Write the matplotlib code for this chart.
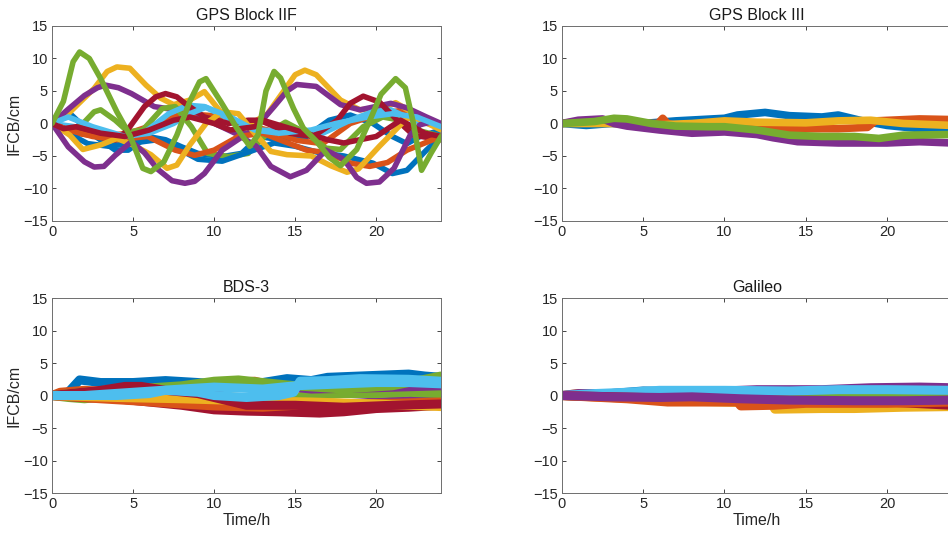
import numpy as np
import matplotlib.pyplot as plt
import matplotlib as mpl

mpl.rcParams['font.family'] = ['Liberation Sans', 'DejaVu Sans']

# MATLAB default line colours
BLUE, ORANGE, YELLOW = '#0072BD', '#D95319', '#EDB120'
PURPLE, GREEN, LBLUE, DRED = '#7E2F8E', '#77AC30', '#4DBEEE', '#A2142F'

# ---------------- GPS Block IIF (time in h, IFCB in cm) ----------------
iif_blue_a_t = [0, 0.6, 1.2, 2.4, 3.9, 4.7, 5.9, 7, 8, 9, 10.5, 11.7, 12.8, 14, 15.7, 17.1, 18.4, 19.8, 21, 21.9, 22.7, 24]
iif_blue_a = [0, 1, 1.3, -1.5, -4.1, -4.1, -2, -2.5, -3.6, -4.6, -5.1, -4.6, -2, -2.5, -2, 0.5, 1.3, 0, -2, -3.1, -2, -1]
iif_orange_a_t = [0, 1.4, 3, 4.7, 6.5, 8, 9.4, 10.9, 11.6, 13.3, 15.1, 16.7, 18.4, 20.2, 21.5, 22.7, 24]
iif_orange_a = [0, -1.5, -2, -1.5, 0, 1.5, 1.3, 1, 0, -1, -2.6, -3.1, 0, 1.5, 2, 0.5, -0.5]
iif_yellow_a_t = [0, 1, 2.6, 3.4, 4, 4.8, 5.8, 6.7, 7.5, 8.5, 9.4, 10.4, 11.5, 12.5, 13.3, 14.3, 15, 15.6, 16.3, 17.8, 19, 20.5, 21.2, 22.7, 24]
iif_yellow_a = [0, 1.5, 5.4, 8, 8.7, 8.5, 5.9, 3.9, 2.9, 3.6, 4.9, 1.8, 0, 0.3, 1.5, 5, 7.5, 8.2, 7.5, 3.6, 2.1, 2.5, 3.2, 1, -0.8]
iif_purple_a_t = [0, 1, 2, 2.8, 3.3, 4.1, 4.9, 6.3, 7.6, 8.4, 9.6, 11.3, 12.1, 12.9, 13.7, 14.5, 15.1, 16.3, 17.8, 19, 20.9, 21.9, 23.1, 24]
iif_purple_a = [0, 2.2, 4.3, 5.5, 5.9, 5.5, 4.6, 2.6, 2.1, 2.6, 0.5, -1.5, -1.5, 0.3, 2.6, 5, 6, 5.7, 2.9, 2.1, 3.1, 2.4, 1, 0]
iif_green_b_t = [0, 1, 1.8, 2.6, 3, 3.9, 4.7, 5.6, 6.8, 7.6, 8.6, 9.6, 10.9, 12.1, 13.3, 14.4, 15.7, 16.9, 17.8, 19.2, 20.4, 21.5, 22.5, 24]
iif_green_b = [0, -1, -0.3, 1.8, 2.1, 0.5, -1.3, -1, 2.3, 2.6, -0.5, -4.6, -5.1, -4.6, -1.5, 0.2, -1.5, -3.8, -4, -0.5, 1, 0.5, -1, -2]
iif_lblue_a_t = [0, 1.4, 2.6, 3.9, 4.7, 5.9, 7.2, 8.4, 9.4, 10.7, 12.1, 12.8, 14.7, 16.7, 18.4, 19.8, 20.9, 22.3, 24]
iif_lblue_a = [0, -0.5, -1.5, -2.6, -3.1, -1, 1.5, 2.8, 2.6, 1, -0.5, -1, -1.3, -1.5, 0.5, 1.8, 2.1, 0.5, -0.5]
iif_dred_a_t = [0, 1, 2.4, 3.9, 4.6, 5.7, 6.4, 7, 7.7, 8.2, 9.4, 10.9, 12.1, 12.8, 14.7, 16.1, 17.6, 18.4, 19.2, 20.2, 21.3, 22.3, 24]
iif_dred_a = [0, -1, -1.8, -2.6, -1.2, 2.6, 4.1, 4.6, 4.1, 3.1, 1, 0, 0.5, 0.5, -1.5, -2, 0.5, 3.1, 4.2, 3.3, 0.5, -1.8, -2.5]
iif_blue_b_t = [0, 1, 2.2, 3.5, 5, 6.5, 7.5, 9, 10.5, 12, 13.7, 15, 16.5, 18, 19.8, 21, 21.9, 23.1, 24]
iif_blue_b = [0, -1.5, -3.1, -3.5, -3, -2.5, -3.5, -5.5, -5.8, -4.5, -3, -3.5, -4.5, -5, -6.1, -7.7, -7.2, -4.1, -2]
iif_orange_b_t = [0, 1, 2.5, 4, 5.9, 7.6, 8.8, 10, 11.5, 13, 15.7, 17, 18.4, 19.6, 20.7, 21.9, 23, 24]
iif_orange_b = [0, -1, -2, -2.5, -2, -4.1, -4.9, -4.1, -2, -1.5, -4.1, -4.5, -6.1, -6.6, -6, -4.1, -3, -2]
iif_yellow_b_t = [0, 1.1, 1.9, 3, 4, 5, 6.1, 7.1, 7.7, 8.5, 9.5, 10.5, 11.5, 12.5, 13.5, 14.5, 16, 17.2, 18.2, 18.9, 20.2, 21.9, 22.5, 24]
iif_yellow_b = [0, -1.8, -4, -3.3, -2.3, -3.3, -4.8, -6.9, -6.4, -3.3, 0, 1.8, 1.5, -1.5, -4.3, -4.8, -5, -6.5, -7.5, -7, -3.5, 0.8, 0.8, -1]
iif_purple_b_t = [0, 1, 2, 2.6, 3.2, 3.9, 4.9, 5.7, 6.5, 7.4, 8.2, 8.8, 9.4, 10.5, 11.7, 12.6, 13.5, 14.7, 15.7, 16.9, 18, 18.8, 19.4, 20.2, 21.1, 22.1, 22.7, 23.5, 24]
iif_purple_b = [0, -3.6, -5.9, -6.7, -6.6, -4.9, -2.8, -4.5, -7, -8.8, -9.2, -8.9, -7.7, -4.1, -2.1, -3.5, -6.6, -8.2, -7.2, -4.1, -5.5, -8.3, -9.2, -9, -6.9, -1.8, -0.2, 0.3, -0.3]
iif_green_a_t = [0, 0.7, 1.3, 1.7, 2.3, 3, 4, 4.8, 5.6, 6.1, 6.9, 7.7, 8.5, 9.1, 9.5, 10.4, 11.4, 12.2, 12.7, 13.2, 13.7, 14.1, 14.9, 15.5, 16.3, 17.1, 17.8, 18.8, 19.7, 20.3, 21.2, 21.8, 22.3, 22.8, 23.4, 24]
iif_green_a = [0, 3.4, 9.5, 11, 10, 6.9, 1.8, -1.8, -6.9, -7.4, -5.9, -1.8, 3.4, 6.4, 6.9, 3.4, -0.7, -3.5, -1.8, 5, 8, 7, 2.3, -0.7, -2.7, -5.2, -6.5, -4, 1, 4.5, 6.9, 5.5, 0, -7.2, -4.5, -2]
iif_lblue_b_t = [0, 1, 2.5, 4.5, 6, 7.5, 8.5, 9.5, 11, 12.5, 14, 16, 17.5, 19.5, 21, 22.5, 24]
iif_lblue_b = [0, 1, -0.5, -2, -1.5, 0, 1.5, 2.5, 1, -1, -1.5, -1, 0, 1, 1.5, 1, -0.5]
iif_dred_b_t = [0, 0.7, 1.5, 3, 4.5, 6, 7.5, 8.5, 10, 11, 12.5, 13, 15, 17, 18, 20, 21.5, 23, 24]
iif_dred_b = [0, -0.8, -0.5, -1.5, -2, -1, 0.5, 1, 0, -1, -0.5, 0.5, -1, -2.5, -3, -2, 0.5, -1.5, -2]

# ---------------- GPS Block III ----------------
iii_blue_t = [0, 1.5, 3, 5, 7, 8.5, 10, 10.8, 12.5, 14, 16, 17, 18.5, 20, 22, 24]
iii_blue = [0, -0.3, 0, 0, 0.4, 0.6, 0.8, 1.3, 1.7, 1.2, 1, 1.3, 0.4, -0.3, -0.8, -1]
iii_orange_t = [0, 1, 3, 5, 5.9, 6.2, 6.5, 7, 10, 12, 14, 17, 18.8, 19.3, 22, 24]
iii_orange = [0, 0.3, 0.2, 0, 0, 0.8, 0, -0.3, -0.4, -0.6, -0.8, -0.8, -0.6, 0.4, 0.7, 0.6]
iii_yellow_t = [0, 3, 6, 8, 10, 12, 15, 17, 19, 21, 24]
iii_yellow = [0, 0, -0.2, 0, 0.4, 0.2, 0.1, 0.4, 0.5, 0, -0.3]
iii_purple_t = [0, 1, 2.5, 3.2, 4, 6, 8, 10, 12, 13, 14.5, 17, 20, 22, 24]
iii_purple = [0, 0.5, 0.7, 0, -0.4, -1, -1.5, -1.3, -1.7, -2.2, -2.8, -3, -3, -2.8, -3]
iii_green_t = [0, 2, 3.2, 4, 5.5, 7, 9, 10, 12, 14, 16, 18, 19.5, 21, 24]
iii_green = [0, 0.3, 0.8, 0.7, 0, -0.4, -0.5, -0.5, -1, -1.8, -2, -2, -2.3, -1.8, -1.7]

# ---------------- BDS-3 ----------------
bds_blue_a_t = [0, 1, 1.7, 3, 5, 7, 9, 10, 12, 13, 14.5, 16, 17, 19, 21, 22, 23, 24]
bds_blue_a = [0, 0.5, 2.4, 2, 2, 2.3, 2, 1.8, 2, 2, 2.6, 2.3, 2.8, 3, 3.2, 3.3, 3, 2.8]
bds_orange_a_t = [0, 0.5, 2, 4, 6, 9, 11, 12.5, 14, 17, 20, 22, 24]
bds_orange_a = [0, 0.5, 0.8, 0.5, 0.2, 0.8, 2, 2.2, 1.3, 1, 1.2, 1.5, 1.2]
bds_yellow_a_t = [0, 2, 4, 6, 8, 10, 12, 14, 16, 18, 20, 22, 24]
bds_yellow_a = [0, 0.5, 1, 1, 1.3, 1, 1.3, 0.8, 0.5, 0.8, 1, 1, 1.3]
bds_purple_a_t = [0, 2, 5, 8, 11, 13, 15, 18, 20, 22, 24]
bds_purple_a = [0, -0.2, -0.5, -1, -1.7, -2, -1.5, -1.3, -1, -0.8, -0.3]
bds_green_a_t = [0, 1, 2, 4, 7, 10, 12, 14, 14.8, 15.5, 18, 20, 22, 24]
bds_green_a = [0, -0.3, -0.5, 0, -1, -0.8, -0.5, -0.8, -1, 0, 0.3, 0.3, 0.5, 0.3]
bds_dred_a_t = [0, 2, 4, 6, 8, 10, 12, 14, 16.5, 18, 20, 22, 24]
bds_dred_a = [0, -0.3, -0.5, -1, -1.5, -2.2, -2.4, -2.5, -2.7, -2.5, -2, -1.8, -1.5]
bds_orange_b_t = [0, 3, 5, 8, 10, 13, 15, 18, 21, 24]
bds_orange_b = [0, -0.5, -0.8, -1.3, -1.6, -1.8, -1.5, -1.3, -1.2, -1]
bds_yellow_b_t = [0, 4, 8, 12, 16, 20, 24]
bds_yellow_b = [0, -0.3, -0.5, -0.8, -1, -1.3, -1.7]
bds_purple_b_t = [0, 3, 6, 9, 12, 14, 16, 20, 24]
bds_purple_b = [0, 0.5, 0.8, 1, 1.5, 1.5, 1, 1.2, 1.5]
bds_green_b_t = [0, 2, 5, 8, 10, 11.5, 13, 15, 18, 21, 23, 24]
bds_green_b = [0, 0.5, 1, 1.5, 2.2, 2.4, 2, 1.5, 1, 1.5, 2.5, 3]
bds_dred_b_t = [0, 3, 4.5, 5.5, 7, 9, 12, 15, 18, 21, 24]
bds_dred_b = [0, 0.8, 1.4, 1.4, 0.8, 0.3, -1.5, -1.5, -1.8, -1.5, -1.3]
bds_lblue_b_t = [0, 2, 5, 8, 10, 13, 15, 18, 20, 22, 24]
bds_lblue_b = [0, 0, 0.5, 1, 1.3, 1, 1.5, 1.8, 2, 2, 1.8]
bds_lblue_a_t = [0, 2, 4, 6, 7, 9, 10, 12, 14, 14.9, 15.3, 17, 19, 22, 24]
bds_lblue_a = [0, 0, 0, 0.3, 0.8, 0.5, 0, -0.3, 0, 0.5, 2.2, 2.3, 2.6, 2.5, 2.2]

# ---------------- Galileo ----------------
gal_blue_t = [0, 3, 5, 8, 12, 16, 20, 24]
gal_blue = [0, 0.3, 0.7, 0.6, 0.6, 0.5, 0.5, 0.6]
gal_orange_a_t = [0, 3, 6, 8, 10, 13, 16, 19, 24]
gal_orange_a = [0, -0.3, -0.6, -0.5, -0.3, 0.2, 0.2, 0.3, 0.2]
gal_yellow_t = [0, 1, 4, 7, 10, 12.9, 13.1, 16, 18, 21, 24]
gal_yellow = [0, 0.3, 0, -0.8, -1, -1.2, -2.1, -2, -2, -1.8, -1.7]
gal_purple_a_t = [0, 1, 3, 5, 8, 10, 12, 14, 16, 19, 22, 24]
gal_purple_a = [0, 0.3, 0.3, 0.5, 0.6, 0.7, 0.9, 0.9, 0.9, 1.2, 1.3, 1.2]
gal_green_t = [0, 3, 7, 12, 18, 23, 24]
gal_green = [0, -0.2, 0, 0.3, 0.2, 0.5, 0.6]
gal_lblue_t = [0, 2, 4, 6, 10, 14, 17, 20, 24]
gal_lblue = [0, 0.3, 0.5, 0.8, 0.8, 0.7, 0.9, 0.9, 0.8]
gal_dred_t = [0, 5, 10, 15, 20, 24]
gal_dred = [0, -0.3, -0.6, -0.9, -1, -1.5]
gal_orange_b_t = [0, 4, 6.5, 10, 10.8, 11, 13, 15, 20, 24]
gal_orange_b = [0, -0.5, -1, -1, -1, -1.6, -1.5, -1.2, -1.2, -1]
gal_purple_b_t = [0, 3, 6, 8, 11, 14, 18, 21, 24]
gal_purple_b = [0, -0.2, -0.3, -0.2, -0.5, -0.7, -0.8, -0.8, -0.7]

panels = [
    ('GPS Block IIF', 4.0, [
        (iif_blue_a_t, iif_blue_a, BLUE), (iif_orange_a_t, iif_orange_a, ORANGE),
        (iif_yellow_a_t, iif_yellow_a, YELLOW), (iif_purple_a_t, iif_purple_a, PURPLE),
        (iif_green_b_t, iif_green_b, GREEN), (iif_lblue_a_t, iif_lblue_a, LBLUE),
        (iif_dred_a_t, iif_dred_a, DRED), (iif_blue_b_t, iif_blue_b, BLUE),
        (iif_orange_b_t, iif_orange_b, ORANGE), (iif_yellow_b_t, iif_yellow_b, YELLOW),
        (iif_purple_b_t, iif_purple_b, PURPLE), (iif_lblue_b_t, iif_lblue_b, LBLUE),
        (iif_dred_b_t, iif_dred_b, DRED), (iif_green_a_t, iif_green_a, GREEN)]),
    ('GPS Block III', 5.5, [
        (iii_blue_t, iii_blue, BLUE), (iii_orange_t, iii_orange, ORANGE),
        (iii_yellow_t, iii_yellow, YELLOW), (iii_purple_t, iii_purple, PURPLE),
        (iii_green_t, iii_green, GREEN)]),
    ('BDS-3', 6.5, [
        (bds_blue_a_t, bds_blue_a, BLUE), (bds_orange_a_t, bds_orange_a, ORANGE),
        (bds_yellow_a_t, bds_yellow_a, YELLOW), (bds_purple_a_t, bds_purple_a, PURPLE),
        (bds_green_a_t, bds_green_a, GREEN), (bds_dred_a_t, bds_dred_a, DRED),
        (bds_orange_b_t, bds_orange_b, ORANGE), (bds_yellow_b_t, bds_yellow_b, YELLOW),
        (bds_purple_b_t, bds_purple_b, PURPLE), (bds_green_b_t, bds_green_b, GREEN),
        (bds_dred_b_t, bds_dred_b, DRED), (bds_lblue_b_t, bds_lblue_b, LBLUE),
        (bds_lblue_a_t, bds_lblue_a, LBLUE)]),
    ('Galileo', 6.5, [
        (gal_blue_t, gal_blue, BLUE), (gal_orange_a_t, gal_orange_a, ORANGE),
        (gal_yellow_t, gal_yellow, YELLOW), (gal_purple_a_t, gal_purple_a, PURPLE),
        (gal_green_t, gal_green, GREEN), (gal_lblue_t, gal_lblue, LBLUE),
        (gal_dred_t, gal_dred, DRED), (gal_orange_b_t, gal_orange_b, ORANGE),
        (gal_purple_b_t, gal_purple_b, PURPLE)]),
]

# axes boxes in figure fractions: left, bottom, width, height
boxes = [(0.0549, 0.5885, 0.4103, 0.3631), (0.5928, 0.5885, 0.4114, 0.3631),
         (0.0549, 0.0819, 0.4103, 0.3631), (0.5928, 0.0819, 0.4114, 0.3631)]

fig = plt.figure(figsize=(9.48, 5.37), dpi=100)
for i, (title, lw, series) in enumerate(panels):
    ax = fig.add_axes(boxes[i])
    for t, v, c in series:
        ax.plot(t, v, color=c, lw=lw, solid_capstyle='round', solid_joinstyle='round')
    ax.set_xlim(0, 24)
    ax.set_ylim(-15, 15)
    ax.set_xticks([0, 5, 10, 15, 20])
    ax.set_yticks([-15, -10, -5, 0, 5, 10, 15])
    ax.tick_params(direction='in', length=3, width=0.6, top=True, right=True,
                   labelsize=10.5, colors='#262626', pad=3)
    for s in ax.spines.values():
        s.set_color('#6e6e6e')
        s.set_linewidth(0.7)
    ax.set_title(title, fontsize=11.5, color='#1a1a1a', pad=4)
    if i % 2 == 0:
        ax.set_ylabel('IFCB/cm', fontsize=11.5, color='#262626', labelpad=1)
    if i >= 2:
        ax.set_xlabel('Time/h', fontsize=11.5, color='#262626', labelpad=1)

fig.savefig('out.png', dpi=100)
